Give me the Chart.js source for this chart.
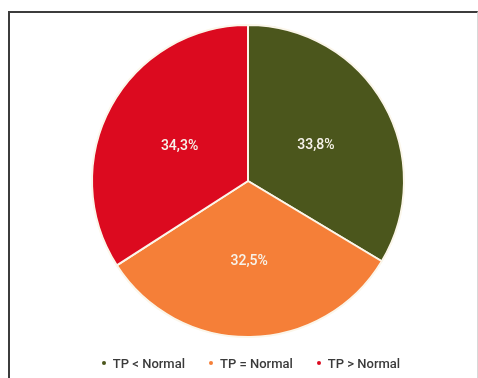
<!DOCTYPE html>
<html lang="pt-BR">
<head>
<meta charset="UTF-8">
<title>TP vs Normal</title>
<script src="https://cdn.jsdelivr.net/npm/chart.js"></script>
<style>
  html, body { margin: 0; padding: 0; background: #fff; }
  body { width: 478px; height: 378px; position: relative; overflow: hidden; font-family: Roboto, "Noto Sans", sans-serif; }
  #frame {
    position: absolute; left: 8px; top: 11px; width: 467px; height: 380px;
    border-left: 2px solid #3c3c3c; border-top: 2px solid #3c3c3c; border-right: 1px solid #d8d8d8;
  }
  #wrap { position: absolute; left: 0; top: 0; width: 478px; height: 378px; }
  #legend {
    position: absolute; left: 0; top: 355px; width: 478px; height: 16px;
    display: flex; justify-content: center; align-items: center; gap: 24px;
    font-size: 13px; font-weight: 500; color: #3a3a3a; padding-left: 24px; box-sizing: border-box;
  }
  #legend span.item { display: flex; align-items: center; }
  #legend span.dot { width: 4px; height: 4px; border-radius: 50%; margin-right: 7px; display: inline-block; }
</style>
</head>
<body>
<div id="frame"></div>
<div id="wrap"><canvas id="pieChart" width="478" height="378"></canvas></div>
<div id="legend"></div>

<script>
  // dados
  const categorias = ['TP < Normal', 'TP = Normal', 'TP > Normal'];
  const percentuais = [33.8, 32.5, 34.3];
  const cores = ['#4b561c', '#f57f38', '#dc0a1f'];

  // rótulos dentro das fatias (formato pt-BR)
  const rotulosPlugin = {
    id: 'rotulos',
    afterDatasetsDraw(chart) {
      const ctx = chart.ctx;
      const meta = chart.getDatasetMeta(0);
      ctx.save();
      ctx.font = '500 14px Roboto, sans-serif';
      ctx.fillStyle = '#f7f3ea';
      ctx.textAlign = 'center';
      ctx.textBaseline = 'middle';
      meta.data.forEach((arc, i) => {
        const p = arc.tooltipPosition();
        ctx.fillText(percentuais[i].toFixed(1).replace('.', ',') + '%', p.x, p.y + 3);
      });
      ctx.restore();
    }
  };

  new Chart(document.getElementById('pieChart'), {
    type: 'pie',
    data: {
      labels: categorias,
      datasets: [{
        data: percentuais,
        backgroundColor: cores,
        borderColor: '#fbf6ea',
        borderWidth: 2
      }]
    },
    options: {
      responsive: false,
      animation: false,
      layout: { padding: { top: 24, bottom: 40, left: 18, right: 0 } },
      plugins: {
        legend: { display: false },
        tooltip: { enabled: false }
      }
    },
    plugins: [rotulosPlugin]
  });

  // legenda em HTML
  const legenda = document.getElementById('legend');
  categorias.forEach((c, i) => {
    const item = document.createElement('span');
    item.className = 'item';
    const dot = document.createElement('span');
    dot.className = 'dot';
    dot.style.background = cores[i];
    item.appendChild(dot);
    item.appendChild(document.createTextNode(c));
    legenda.appendChild(item);
  });
</script>
</body>
</html>
